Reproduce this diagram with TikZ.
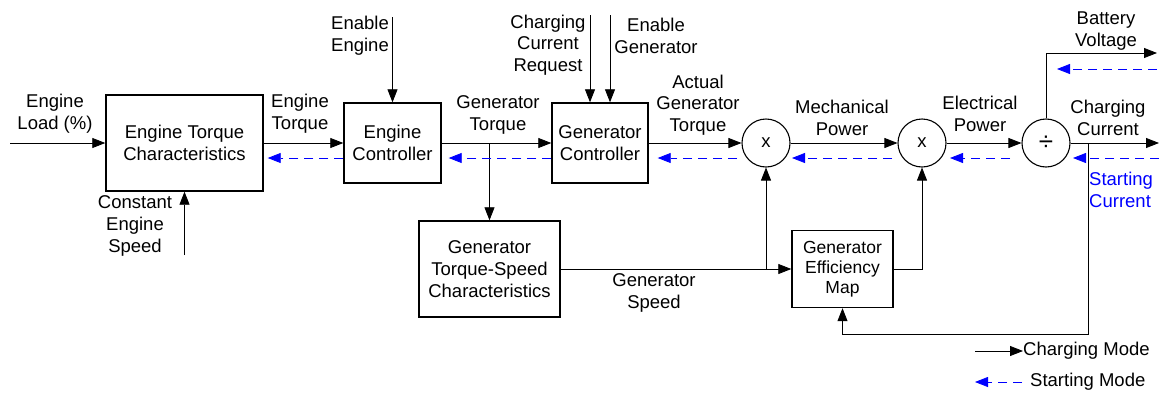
\documentclass[tikz,border=0pt]{standalone}
\usepackage{fontspec}
\setmainfont{Liberation Sans}
\usetikzlibrary{arrows.meta,calc}
\begin{document}
\begin{tikzpicture}[x=1pt,y=-1pt,
  txt/.style={font=\fontsize{18.5}{21.7}\selectfont, align=center, inner sep=0pt},
  blk/.style={draw, line width=1.4pt, align=center, font=\fontsize{18.5}{21.7}\selectfont, inner sep=0pt},
  mul/.style={draw, circle, line width=1.1pt, minimum size=48pt, inner sep=0pt, font=\fontsize{18.5}{21.7}\selectfont},
  arr/.style={line width=0.8pt, -{Triangle[length=13pt,width=10pt]}},
  ln/.style={line width=0.8pt},
  sarr/.style={blue, line width=0.8pt, dash pattern=on 9pt off 6pt, -{Triangle[length=13pt,width=10pt]}},
]
\useasboundingbox (0,0) rectangle (1159,394);

% blocks
\node[blk, minimum width=157pt, minimum height=96pt] (etc) at (184.5,143) {Engine Torque\\Characteristics};
\node[blk, minimum width=97pt, minimum height=80pt] (ec) at (392.5,143) {Engine\\Controller};
\node[blk, minimum width=96pt, minimum height=80pt] (gc) at (600,143) {Generator\\Controller};
\node[mul] (m1) at (766,143) {x};
\node[mul] (m2) at (922,143) {x};
\node[mul, font=\fontsize{26}{28}\selectfont] (dv) at (1046,143) {÷};
\node[blk, minimum width=141pt, minimum height=96pt] (ts) at (489.5,269) {Generator\\Torque-Speed\\Characteristics};
\node[blk, minimum width=101pt, minimum height=77pt, font=\fontsize{17.5}{20.2}\selectfont] (em) at (842.5,269) {Generator\\Efficiency\\Map};

% free ends and junctions
\coordinate (loadin) at (10,143);
\coordinate (ces) at (184.5,255);
\coordinate (enE) at (392.5,17);
\coordinate (ccr) at (590,15);
\coordinate (enG) at (610,15);
\coordinate (j0) at (ts.north |- ec.east);
\coordinate (j1) at (m1.south |- em.west);
\coordinate (j2) at (1088,143);
\coordinate (fb) at (1088,334);
\coordinate (batt) at (1157,53);
\coordinate (chg) at (1159,143);
\coordinate (battS) at (1157,69);
\coordinate (chgS) at (1159,158);

% charging mode connectors
\draw[arr] (loadin) -- (etc.west);
\draw[arr] (ces) -- (etc.south);
\draw[arr] (etc.east) -- (ec.west);
\draw[arr] (enE) -- (ec.north);
\draw[arr] (ec.east) -- (gc.west);
\draw[arr] (j0) -- (ts.north);
\draw[arr] (ccr) -- (ccr |- gc.north);
\draw[arr] (enG) -- (enG |- gc.north);
\draw[arr] (gc.east) -- (m1.west);
\draw[arr] (m1.east) -- (m2.west);
\draw[arr] (m2.east) -- (dv.west);
\draw[arr] (dv.east) -- (chg);
\draw[arr] (dv.north) |- (batt);
\draw[arr] (ts.east) -- (em.west);
\draw[arr] (j1) -- (m1.south);
\draw[arr] (em.east) -| (m2.south);
\draw[arr] (j2) -- (fb) -| (em.south);

% starting mode connectors
\draw[sarr] ([yshift=-15pt]ec.west) -- ([xshift=4pt,yshift=-15pt]etc.east);
\draw[sarr] ([yshift=-15pt]gc.west) -- ([xshift=7pt,yshift=-15pt]ec.east);
\draw[sarr] ([xshift=-29pt,yshift=-15pt]m1.center) -- ([xshift=9pt,yshift=-15pt]gc.east);
\draw[sarr] ([xshift=-30pt,yshift=-15pt]m2.center) -- ([xshift=26pt,yshift=-15pt]m1.center);
\draw[sarr] ([xshift=-36pt,yshift=-15pt]dv.center) -- ([xshift=28pt,yshift=-15pt]m2.center);
\draw[sarr] (chgS) -- ([xshift=27pt,yshift=-15pt]dv.center);
\draw[sarr] (battS) -- ([xshift=11pt]battS -| dv.north);

% labels
\node[txt] (lLoad) at (55,114) {Engine\\Load (\%)};
\node[txt] (lET) at (300,114) {Engine\\Torque};
\node[txt] (lCES) at (135,226) {Constant\\Engine\\Speed};
\node[txt] (lEE) at (360,36) {Enable\\Engine};
\node[txt] (lGT) at (498,115) {Generator\\Torque};
\node[txt] (lCCR) at (548,45) {Charging\\Current\\Request};
\node[txt] (lEG) at (656,36) {Enable\\Generator};
\node[txt] (lAGT) at (698,105) {Actual\\Generator\\Torque};
\node[txt] (lMP) at (842,118) {Mechanical\\Power};
\node[txt] (lEP) at (980,114) {Electrical\\Power};
\node[txt] (lBV) at (1106,31) {Battery\\Voltage};
\node[txt] (lCC) at (1108,118) {Charging\\Current};
\node[txt, align=left, anchor=west, text=blue] (lSC) at (1089,190) {Starting\\Current};
\node[txt] (lGS) at (654,293) {Generator\\Speed};

% legend
\node[txt, anchor=west] (legC) at (1023,351) {Charging Mode};
\node[txt, anchor=west] (legS) at (1030,382) {Starting Mode};
\coordinate (legCa) at (975,351);
\coordinate (legSa) at (1022,382);
\draw[arr] (legCa) -- (legC.west);
\draw[sarr] (legSa) -- (legSa -| legCa);
\end{tikzpicture}
\end{document}
